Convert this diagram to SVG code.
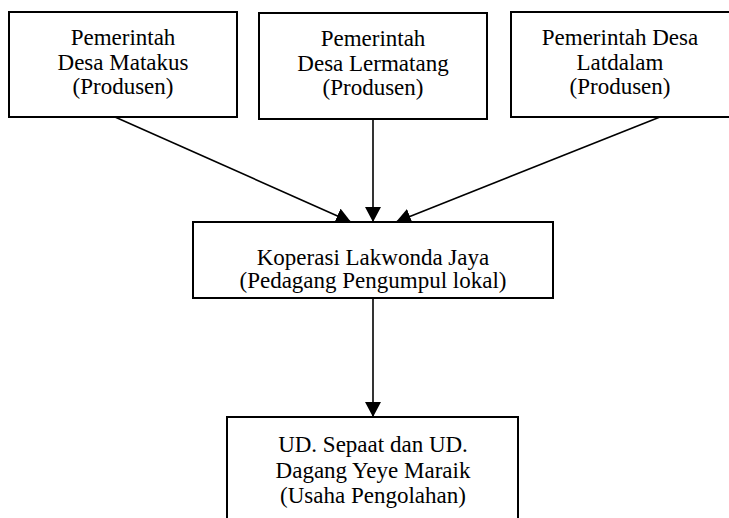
<svg xmlns="http://www.w3.org/2000/svg" width="729" height="518" viewBox="0 0 729 518">
<style>
.box{fill:#fff;stroke:#000;stroke-width:2}
.t{font-size:23px;fill:#000;text-anchor:middle}
.c{stroke:#000;stroke-width:1.6;fill:none}
</style>
<defs>
<marker id="ah" markerUnits="userSpaceOnUse" markerWidth="16" markerHeight="16" refX="15" refY="8" orient="auto" viewBox="0 0 16 16">
<path d="M0,0 L15,8 L0,16 z" fill="#000"/>
</marker>
</defs>
<rect width="729" height="518" fill="#fff"/>
<g id="connectors">
<line class="c" x1="115" y1="117" x2="351" y2="222" marker-end="url(#ah)"/>
<line class="c" x1="373" y1="119" x2="373" y2="222" marker-end="url(#ah)"/>
<line class="c" x1="660" y1="117" x2="396" y2="222" marker-end="url(#ah)"/>
<line class="c" x1="373" y1="298" x2="373" y2="417" marker-end="url(#ah)"/>
</g>
<g font-family="'Liberation Serif', 'DejaVu Serif', serif">
<g id="n1">
<rect class="box" x="9" y="12" width="228" height="105"/>
<text class="t" x="123" y="45">Pemerintah</text>
<text class="t" x="123" y="70">Desa Matakus</text>
<text class="t" x="123" y="94">(Produsen)</text>
</g>
<g id="n2">
<rect class="box" x="259" y="13" width="228" height="106"/>
<text class="t" x="373" y="46">Pemerintah</text>
<text class="t" x="373" y="71">Desa Lermatang</text>
<text class="t" x="373" y="95">(Produsen)</text>
</g>
<g id="n3">
<rect class="box" x="511" y="12" width="240" height="105"/>
<text class="t" x="620" y="45">Pemerintah Desa</text>
<text class="t" x="620" y="70">Latdalam</text>
<text class="t" x="620" y="94">(Produsen)</text>
</g>
<g id="n4">
<rect class="box" x="193" y="222" width="360" height="76"/>
<text class="t" x="373" y="265">Koperasi Lakwonda Jaya</text>
<text class="t" x="373" y="288">(Pedagang Pengumpul lokal)</text>
</g>
<g id="n5">
<rect class="box" x="227" y="417" width="291" height="120"/>
<text class="t" x="373" y="452">UD. Sepaat dan UD.</text>
<text class="t" x="373" y="478">Dagang Yeye Maraik</text>
<text class="t" x="373" y="503">(Usaha Pengolahan)</text>
</g>
</g>
</svg>
